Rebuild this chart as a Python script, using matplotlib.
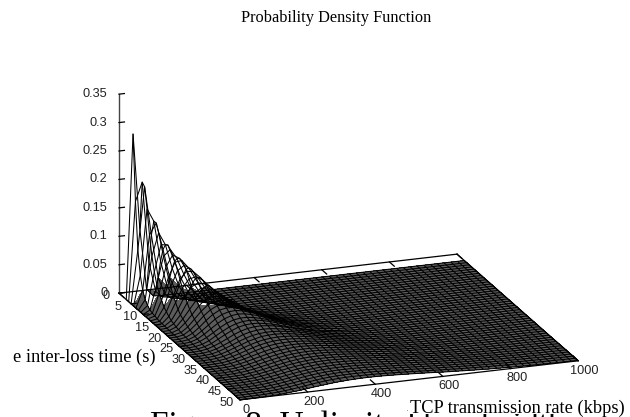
import matplotlib
matplotlib.use("Agg")
import matplotlib.pyplot as plt
from matplotlib.patches import Rectangle
import numpy as np

# rows of the surface, one per inter-loss time (3 s ... 50 s)
inter_loss_times = list(range(3, 51))
# columns of the surface, 20 kbps apart
rates = list(range(0, 1001, 20))

# a row stops where the surface has reached the floor, the rest is 0
density_rows = [
    [2900, 1220, 145, 10],
    [1750, 2075, 650, 125, 15],
    [940, 2030, 1170, 410, 100, 20],
    [525, 1680, 1450, 735, 260, 88, 26, 5],
    [300, 1260, 1455, 975, 465, 188, 75, 24, 6],
    [170, 925, 1320, 1095, 670, 343, 145, 66, 24, 8],
    [108, 684, 1150, 1130, 830, 505, 265, 120, 60, 24, 10],
    [66, 506, 980, 1090, 913, 627, 385, 220, 105, 55, 26, 11, 4],
    [47, 385, 832, 1030, 957, 749, 510, 312, 177, 94, 50, 25, 11, 5],
    [34, 294, 686, 941, 955, 813, 608, 412, 255, 152, 86, 47, 25, 13, 6, 3],
    [23, 213, 564, 828, 910, 828, 664, 482, 328, 209, 127, 76, 44, 25, 14, 7, 4],
    [17, 170, 442, 714, 842, 820, 706, 553, 400, 272, 178, 110, 68, 41, 24, 14, 8, 4],
    [14, 124, 357, 597, 744, 767, 698, 581, 442, 326, 217, 147, 93, 62, 37, 22, 13, 8, 4],
    [8, 91, 273, 490, 644, 700, 665, 581, 469, 357, 259, 182, 119, 81, 52, 34, 21, 13, 8, 4],
    [7, 72, 215, 416, 559, 640, 637, 579, 494, 390, 299, 215, 156, 104, 72, 46, 31, 20, 13, 8, 5, 3],
    [5, 54, 180, 336, 486, 576, 600, 564, 498, 414, 324, 252, 180, 132, 93, 63, 42, 29, 18, 13, 8, 5, 3],
    [3, 45, 151, 280, 420, 521, 557, 546, 498, 431, 353, 280, 211, 157, 112, 81, 56, 39, 27, 18, 12, 8, 5, 3],
    [3, 31, 114, 239, 364, 463, 510, 515, 484, 432, 364, 296, 234, 177, 135, 99, 70, 49, 35, 25, 17, 12, 8, 5, 3],
    [2, 25, 98, 201, 319, 412, 470, 490, 473, 431, 377, 319, 255, 206, 157, 120, 88, 64, 47, 33, 24, 16, 11, 8, 5, 3, 2],
    [1, 21, 78, 170, 276, 368, 432, 455, 451, 423, 382, 327, 271, 221, 173, 133, 101, 76, 55, 41, 30, 22, 15, 11, 7, 5, 4, 2],
    [1, 17, 61, 144, 235, 326, 392, 426, 435, 415, 378, 339, 287, 239, 196, 154, 122, 91, 70, 52, 39, 29, 21, 15, 11, 8, 5, 4, 3, 2],
    [1, 14, 53, 123, 205, 287, 353, 394, 410, 400, 373, 340, 295, 250, 205, 168, 135, 103, 80, 62, 45, 35, 26, 19, 14, 10, 7, 5, 4, 2, 2],
    [1, 11, 46, 103, 175, 251, 315, 357, 376, 376, 357, 331, 296, 258, 217, 182, 146, 118, 93, 72, 55, 42, 32, 25, 18, 14, 10, 8, 5, 4, 3, 2],
    [1, 9, 35, 84, 155, 223, 284, 328, 353, 360, 349, 328, 299, 263, 227, 191, 158, 130, 104, 83, 65, 50, 38, 30, 23, 17, 13, 10, 7, 5, 4, 3, 2, 1],
    [1, 7, 30, 72, 135, 200, 258, 306, 331, 340, 334, 313, 290, 258, 224, 190, 160, 132, 107, 86, 69, 54, 42, 33, 26, 20, 15, 12, 9, 7, 5, 4, 3, 2, 1],
    [0, 7, 26, 65, 114, 169, 228, 273, 306, 322, 325, 314, 296, 270, 241, 211, 179, 153, 125, 104, 85, 68, 54, 42, 33, 26, 20, 16, 12, 9, 7, 5, 4, 3, 2, 2],
    [0, 5, 21, 52, 98, 146, 201, 250, 281, 299, 305, 299, 284, 262, 238, 214, 186, 159, 134, 113, 92, 74, 59, 49, 38, 31, 24, 18, 15, 11, 9, 7, 5, 4, 3, 2, 2, 1],
    [0, 5, 17, 46, 87, 133, 180, 223, 258, 278, 287, 287, 277, 261, 241, 218, 191, 165, 142, 122, 100, 81, 67, 55, 45, 35, 28, 22, 17, 14, 11, 8, 6, 5, 4, 3, 2, 1, 1, 1],
    [0, 4, 14, 39, 75, 120, 161, 206, 236, 264, 274, 278, 271, 259, 239, 217, 197, 172, 150, 128, 108, 92, 75, 61, 50, 40, 33, 26, 21, 17, 13, 10, 8, 6, 5, 4, 3, 2, 2, 1],
    [0, 3, 13, 34, 66, 103, 148, 186, 220, 244, 258, 265, 261, 253, 238, 220, 199, 178, 156, 135, 114, 98, 82, 69, 57, 45, 37, 30, 25, 20, 16, 13, 10, 8, 6, 5, 4, 3, 2, 2, 1, 1],
    [0, 3, 11, 29, 57, 92, 132, 170, 202, 228, 244, 251, 252, 244, 232, 217, 198, 180, 160, 140, 122, 104, 88, 74, 62, 51, 42, 34, 28, 22, 18, 14, 12, 9, 7, 6, 4, 3, 3, 2, 2, 1, 1],
    [0, 2, 9, 25, 49, 80, 117, 154, 186, 213, 229, 238, 240, 236, 226, 213, 197, 181, 162, 144, 127, 110, 95, 81, 69, 57, 47, 39, 32, 26, 21, 17, 14, 11, 9, 7, 6, 4, 3, 3, 2, 2, 1, 1],
    [0, 2, 8, 23, 46, 74, 105, 138, 167, 193, 212, 224, 229, 228, 220, 212, 198, 184, 167, 150, 132, 115, 100, 87, 74, 63, 53, 44, 36, 30, 25, 21, 17, 14, 11, 9, 7, 6, 5, 4, 3, 2, 2, 1, 1, 1],
    [0, 2, 7, 20, 41, 66, 96, 125, 153, 180, 197, 212, 220, 222, 218, 208, 197, 183, 167, 152, 135, 120, 106, 92, 80, 68, 58, 49, 41, 34, 28, 23, 19, 16, 13, 11, 9, 7, 5, 4, 4, 3, 2, 2, 1, 1, 1],
    [0, 1, 6, 17, 35, 58, 86, 114, 142, 167, 186, 200, 209, 213, 211, 204, 195, 184, 169, 155, 140, 125, 111, 98, 85, 74, 64, 55, 47, 39, 33, 27, 23, 19, 16, 13, 11, 9, 7, 5, 4, 4, 3, 2, 2, 1, 1, 1],
    [0, 1, 5, 15, 31, 52, 78, 105, 131, 155, 175, 190, 199, 205, 204, 199, 191, 181, 170, 156, 143, 129, 115, 103, 91, 80, 70, 60, 52, 45, 38, 32, 27, 23, 19, 16, 13, 11, 9, 7, 6, 5, 4, 3, 2, 2, 2, 1, 1],
    [0, 1, 5, 13, 28, 47, 71, 96, 121, 145, 165, 180, 190, 196, 197, 194, 188, 179, 168, 157, 145, 132, 120, 107, 96, 85, 75, 66, 57, 50, 43, 37, 31, 26, 22, 19, 16, 13, 11, 9, 7, 6, 5, 4, 3, 3, 2, 2, 1, 1],
    [0, 1, 5, 11, 25, 42, 63, 87, 110, 133, 152, 169, 181, 186, 190, 188, 183, 177, 167, 158, 146, 133, 122, 108, 97, 86, 75, 66, 57, 49, 42, 35, 30, 26, 22, 18, 15, 13, 11, 9, 8, 6, 5, 4, 3, 3, 2, 2, 2, 1],
    [0, 1, 4, 10, 22, 38, 58, 80, 103, 126, 145, 160, 172, 180, 184, 183, 179, 173, 165, 156, 146, 135, 124, 113, 102, 92, 82, 72, 63, 56, 49, 42, 36, 31, 27, 23, 19, 16, 14, 12, 10, 8, 7, 6, 5, 4, 3, 3, 2, 2],
    [0, 1, 3, 9, 19, 34, 52, 73, 95, 117, 136, 151, 164, 172, 177, 178, 175, 170, 164, 156, 147, 137, 127, 117, 106, 96, 86, 77, 68, 61, 53, 46, 40, 35, 30, 26, 22, 19, 16, 14, 12, 10, 8, 7, 6, 5, 4, 3, 3, 2],
    [0, 1, 3, 8, 17, 31, 48, 67, 88, 109, 128, 144, 156, 165, 170, 172, 171, 167, 162, 155, 147, 138, 128, 119, 109, 99, 90, 81, 72, 64, 57, 50, 44, 38, 33, 29, 25, 21, 18, 16, 14, 12, 10, 8, 7, 6, 5, 4, 3, 3],
    [0, 0, 2, 7, 15, 27, 43, 61, 81, 101, 120, 135, 147, 157, 162, 165, 165, 162, 158, 152, 145, 137, 128, 120, 111, 102, 93, 84, 76, 68, 60, 54, 48, 42, 37, 32, 28, 24, 21, 18, 15, 13, 11, 10, 8, 7, 6, 5, 4, 4],
    [0, 0, 2, 6, 13, 25, 39, 56, 75, 95, 113, 129, 142, 151, 157, 160, 160, 159, 155, 150, 144, 136, 128, 120, 112, 104, 95, 87, 79, 71, 64, 57, 51, 45, 40, 35, 31, 27, 24, 21, 18, 16, 13, 11, 10, 8, 7, 6, 5, 4],
    [0, 0, 2, 5, 12, 22, 36, 52, 70, 89, 107, 122, 135, 145, 151, 155, 155, 154, 151, 147, 142, 135, 128, 120, 112, 104, 96, 89, 81, 74, 67, 60, 54, 48, 43, 38, 34, 30, 26, 23, 20, 17, 15, 13, 11, 10, 8, 7, 6, 5],
    [0, 0, 2, 5, 11, 20, 33, 48, 65, 83, 100, 116, 129, 139, 146, 150, 150, 150, 147, 144, 139, 133, 127, 120, 112, 105, 97, 90, 82, 75, 69, 62, 56, 50, 45, 40, 36, 32, 28, 25, 22, 19, 17, 15, 13, 11, 9, 8, 7, 6],
    [0, 0, 2, 4, 10, 18, 30, 44, 60, 77, 94, 110, 123, 133, 140, 144, 145, 145, 143, 140, 136, 131, 125, 118, 112, 105, 97, 90, 83, 76, 70, 64, 58, 52, 47, 42, 38, 34, 30, 27, 24, 21, 18, 16, 14, 12, 11, 9, 8, 7],
    [0, 0, 2, 4, 9, 17, 28, 40, 55, 72, 88, 104, 117, 127, 134, 139, 140, 140, 139, 136, 133, 128, 122, 117, 111, 104, 97, 90, 84, 77, 71, 65, 59, 54, 49, 44, 40, 36, 32, 29, 26, 23, 20, 18, 16, 14, 12, 11, 9, 8],
    [0, 0, 2, 4, 8, 16, 26, 36, 47, 62, 76, 89, 100, 112, 120, 127, 131, 134, 135, 134, 132, 127, 123, 117, 112, 105, 99, 92, 84, 77, 70, 65, 58, 52, 47, 42, 36, 33, 29, 26, 22, 20, 17, 15, 13, 11, 10, 9, 7, 6],
]

z_ticks = [0, 0.05, 0.1, 0.15, 0.2, 0.25, 0.3, 0.35]
z_tick_labels = ["0", "0.05", "0.1", "0.15", "0.2", "0.25", "0.3", "0.35"]
time_ticks = list(range(0, 51, 5))
rate_ticks = list(range(0, 1001, 200))

tick_font = {"family": "Liberation Sans", "size": 9.2, "color": "#222222"}
serif = "Liberation Serif"

Z = np.zeros((len(inter_loss_times), len(rates)))
for i, row in enumerate(density_rows):
    Z[i, 1:len(row) + 1] = row
Z = Z * 1e-4
T, R = np.meshgrid(inter_loss_times, rates, indexing="ij")

fig = plt.figure(figsize=(6.3, 4.17), dpi=100)

# caption of the page below, cut off by the bottom of the picture
fig.text(150 / 630, -17 / 417, "Figure 8: Unlimited bandwidth", family=serif, fontsize=24,
         ha="left", va="baseline", color="black", zorder=0)
# the axis label sits on a white box that hides most of the caption
fig.add_artist(Rectangle((408 / 630, 1 - 414 / 417), 222 / 630, 14 / 417, transform=fig.transFigure,
                         facecolor="white", edgecolor="none", zorder=1))

ax = fig.add_axes([75.6 / 630, -83.4 / 417, 531.5 / 630, 531.5 / 417], projection="3d", proj_type="ortho")
ax.patch.set_alpha(0)
ax.set_zorder(2)
ax.computed_zorder = False
ax.set_box_aspect((355.6, 359.5, 210))
ax.view_init(elev=18.6, azim=-19.9)
ax.set_xlim(0, 50)
ax.set_ylim(0, 1000)
ax.set_zlim(0, 0.35)
ax.set_axis_off()

# the flat part of the mesh is nearly solid in the reference, a grey fill
# under the lines gives the same tone
Z_flat = np.where(Z <= 0.05, Z, np.nan)
ax.plot_surface(T, R, Z_flat, rstride=1, cstride=1, color="#5c5c5c", shade=False,
                linewidth=0, antialiased=False, zorder=1)
ax.plot_wireframe(T, R, Z, rstride=1, cstride=1, color="black", linewidth=0.75, zorder=2)

# base of the box and the z axis
frame = dict(color="black", linewidth=0.9, zorder=3)
ax.plot([0, 0], [0, 1000], [0, 0], **frame)
ax.plot([50, 50], [0, 1000], [0, 0], **frame)
ax.plot([0, 50], [0, 0], [0, 0], **frame)
ax.plot([0, 50], [1000, 1000], [0, 0], **frame)
ax.plot([0, 0], [0, 0], [0, 0.35], color="#444444", linewidth=1.0, zorder=3)

for z, label in zip(z_ticks, z_tick_labels):
    ax.plot([0, 0], [0, 16], [z, z], **frame)
    ax.text(0 - 0.57, 0 - 31, z, label, ha="right", va="center", **tick_font)

for t in time_ticks:
    ax.plot([t, t], [0, 15], [0, 0], **frame)
    ax.text(t + 0.62, -43, 0, str(t), ha="center", va="center", **tick_font)

for r in rate_ticks:
    ax.plot([50, 48], [r, r], [0, 0], **frame)
    ax.plot([0, 2], [r, r], [0, 0], **frame)
    ax.text(54.4, r - 13, 0, str(r), ha="center", va="center", **tick_font)

fig.text(336 / 630, 1 - 18 / 417, "Probability Density Function", family=serif, fontsize=11.8,
         ha="center", va="center")
fig.text(13 / 630, 1 - 357 / 417, "e inter-loss time (s)", family=serif, fontsize=13.2,
         ha="left", va="center", zorder=3)
fig.text(410 / 630, 1 - 408 / 417, "TCP transmission rate (kbps)", family=serif, fontsize=13.2,
         ha="left", va="center", zorder=3)

fig.savefig("out.png", dpi=100)
